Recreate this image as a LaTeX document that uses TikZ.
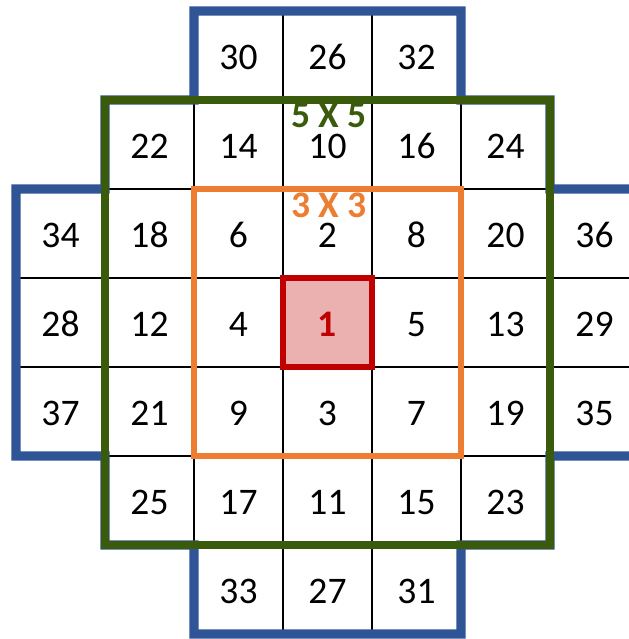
\documentclass[tikz,border=0pt]{standalone}
\usepackage{fontspec}
\setmainfont{Carlito}
\usepackage{tikz}
\definecolor{armblue}{HTML}{2F5597}
\definecolor{fivegreen}{HTML}{3A5A0C}
\definecolor{threeorange}{HTML}{ED7D31}
\definecolor{centrered}{HTML}{C00000}
\definecolor{centrefill}{HTML}{EBB1B1}

\begin{document}
\begin{tikzpicture}[
  x=2cm,y=-2cm,
  cell/.style={draw=black,line width=0.9pt,minimum size=2cm,inner sep=0pt,outer sep=0pt,
    font=\fontsize{24}{28}\selectfont,text height=17.8pt,text depth=0pt},
  centre/.style={cell,draw=centrered,fill=centrefill,line width=3.8pt,
    font=\fontsize{24}{28}\selectfont\bfseries,text=centrered},
  ring/.style={line width=#1,line join=miter},
  sizelbl/.style={font=\fontsize{24}{27}\selectfont\bfseries,inner sep=0pt,
    text height=15.2pt,text depth=0pt}
]
\fill[white] (-0.1798,-0.1236) rectangle (6.8764,7.0562);
\useasboundingbox (-0.1798,-0.1236) rectangle (6.8764,7.0562);

% cells: column/row/number
\foreach \c/\r/\v in {2/0/30,3/0/26,4/0/32,
  1/1/22,2/1/14,3/1/10,4/1/16,5/1/24,
  0/2/34,1/2/18,2/2/6,3/2/2,4/2/8,5/2/20,6/2/36,
  0/3/28,1/3/12,2/3/4,4/3/5,5/3/13,6/3/29,
  0/4/37,1/4/21,2/4/9,3/4/3,4/4/7,5/4/19,6/4/35,
  1/5/25,2/5/17,3/5/11,4/5/15,5/5/23,
  2/6/33,3/6/27,4/6/31}
  \node[cell] (n\v) at (\c+0.5,\r+0.5) {\v};

% outer cross
\draw[armblue,ring=5.8pt] (n30.north west) -- (n32.north east) -- (n32.south east)
  -- (n24.north east) -- (n36.north west) -- (n36.north east) -- (n35.south east)
  -- (n35.south west) -- (n23.south east) -- (n31.north east) -- (n31.south east)
  -- (n33.south west) -- (n33.north west) -- (n25.south west) -- (n37.south east)
  -- (n37.south west) -- (n34.north west) -- (n34.north east) -- (n22.north west)
  -- (n30.south west) -- cycle;

% 5 x 5 and 3 x 3 frames
\draw[fivegreen,ring=5.1pt] (n22.north west) rectangle (n23.south east);
\draw[threeorange,ring=3.8pt] (n6.north west) rectangle (n7.south east);

\node[centre] (n1) at (3.5,3.5) {1};

\node[sizelbl,text=fivegreen] (lbl5) at (3.517,1.175) {5 X 5};
\node[sizelbl,text=threeorange] (lbl3) at (3.517,2.185) {3 X 3};
\end{tikzpicture}
\end{document}
